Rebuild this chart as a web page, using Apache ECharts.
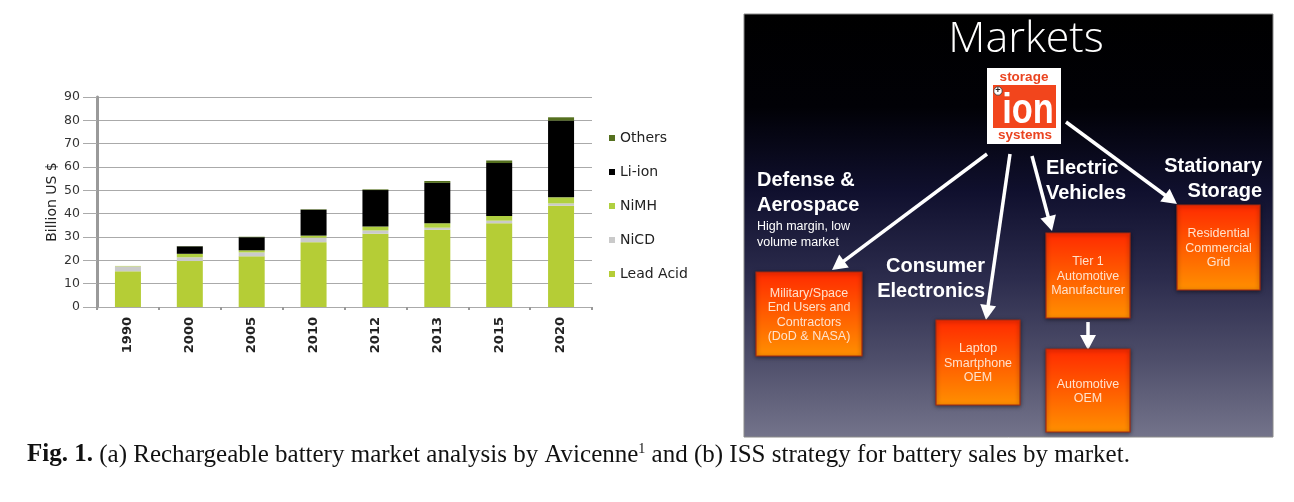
<!DOCTYPE html>
<html>
<head>
<meta charset="utf-8">
<script src="https://cdn.jsdelivr.net/npm/echarts@6/dist/echarts.min.js"></script>
<style>
html,body{margin:0;padding:0;background:#fff;}
#main{width:1294px;height:502px;}
</style>
</head>
<body>
<div id="main"></div>
<script>
// chart values (Billion US $)
var categories = ['1990', '2000', '2005', '2010', '2012', '2013', '2015', '2020'];
var leadAcid = [15.3, 19.7, 21.7, 27.8, 31.4, 33.1, 35.9, 43.4];
var niCd     = [2.1, 1.6, 1.7, 1.9, 1.4, 0.9, 1.1, 1.0];
var niMh     = [0.2, 1.5, 0.9, 0.9, 1.7, 1.9, 2.0, 2.6];
var liIon    = [0, 3.2, 5.6, 11.1, 15.6, 17.3, 22.7, 32.9];
var others   = [0, 0.1, 0.2, 0.2, 0.3, 0.8, 1.1, 1.4];
var legendOrder = ['Others', 'Li-ion', 'NiMH', 'NiCD', 'Lead Acid'];

// diagram texts
var boxes = [
	{x: 756, y: 272, w: 106, h: 84, text: 'Military/Space\nEnd Users and\nContractors\n(DoD & NASA)'},
	{x: 936, y: 320, w: 84, h: 85, text: 'Laptop\nSmartphone\nOEM'},
	{x: 1046, y: 233, w: 84, h: 85, text: 'Tier 1\nAutomotive\nManufacturer'},
	{x: 1046, y: 349, w: 84, h: 83, text: 'Automotive\nOEM'},
	{x: 1177, y: 205, w: 83, h: 85, text: 'Residential\nCommercial\nGrid'}
];
var arrows = [
	[987, 154, 832, 270],
	[1010, 154, 986, 320],
	[1032, 156, 1052, 231],
	[1066, 122, 1177, 204],
	[1088, 322, 1088, 350]
];

function arrow(a){
	var dx = a[2] - a[0], dy = a[3] - a[1];
	var len = Math.sqrt(dx * dx + dy * dy);
	var ux = dx / len, uy = dy / len;
	var hl = 15, hw = 8;
	var bx = a[2] - ux * hl, by = a[3] - uy * hl;
	return {
		type: 'group',
		children: [{
			type: 'line',
			shape: {x1: a[0], y1: a[1], x2: bx + ux * 2, y2: by + uy * 2},
			style: {stroke: '#fff', lineWidth: 3.5}
		}, {
			type: 'polygon',
			shape: {points: [[a[2], a[3]], [bx - uy * hw, by + ux * hw], [bx + uy * hw, by - ux * hw]]},
			style: {fill: '#fff'}
		}]
	};
}

function box(b){
	return {
		type: 'group',
		children: [{
			type: 'rect',
			shape: {x: b.x, y: b.y, width: b.w, height: b.h},
			style: {
				fill: {type: 'linear', x: 0, y: 0, x2: 0, y2: 1,
					colorStops: [{offset: 0, color: '#ff2a00'}, {offset: 1, color: '#ff9000'}]},
				stroke: '#a82a10', lineWidth: 1.2,
				shadowBlur: 4, shadowColor: 'rgba(0,0,0,0.5)', shadowOffsetY: 1
			}
		}, {
			type: 'text',
			style: {
				x: b.x + b.w / 2, y: b.y + b.h / 2 + 1,
				text: b.text, align: 'center', verticalAlign: 'middle',
				font: '12.5px "Liberation Sans", Arial, sans-serif',
				lineHeight: 14.5, fill: '#ffe2cc'
			}
		}]
	};
}

function label(x, y, txt, size, weight, align){
	return {
		type: 'text',
		style: {
			x: x, y: y, text: txt, align: align || 'left', verticalAlign: 'middle',
			font: weight + ' ' + size + 'px "Liberation Sans", Arial, sans-serif',
			lineHeight: size * 1.28, fill: '#fff'
		}
	};
}

var graphics = [];
// panel background
graphics.push({
	type: 'rect',
	shape: {x: 744, y: 14, width: 529, height: 423},
	style: {
		fill: {type: 'linear', x: 0, y: 0, x2: 0, y2: 1, colorStops: [
			{offset: 0, color: '#000000'},
			{offset: 0.22, color: '#010106'},
			{offset: 0.42, color: '#10102e'},
			{offset: 0.62, color: '#2b2b4c'},
			{offset: 0.82, color: '#4f4f6b'},
			{offset: 1, color: '#74748b'}]},
		stroke: '#8a8a8a', lineWidth: 1
	}
});
graphics.push({
	type: 'text',
	style: {x: 1026, y: 40, text: 'Markets', align: 'center', verticalAlign: 'middle',
		font: '300 43px "Open Sans", "Liberation Sans", sans-serif', fill: '#fff'}
});
// logo
graphics.push({type: 'rect', shape: {x: 987, y: 68, width: 74, height: 76}, style: {fill: '#fff'}});
graphics.push({type: 'rect', shape: {x: 993, y: 85, width: 63, height: 43}, style: {fill: '#f2451c'}});
graphics.push({type: 'text', style: {x: 1024, y: 77.5, text: 'storage', align: 'center', verticalAlign: 'middle',
	font: 'bold 13.5px "Liberation Sans", Arial, sans-serif', fill: '#ea4420'}});
graphics.push({type: 'text', style: {x: 1025, y: 135, text: 'systems', align: 'center', verticalAlign: 'middle',
	font: 'bold 13.5px "Liberation Sans", Arial, sans-serif', fill: '#ea4420'}});
graphics.push({type: 'text', x: 1028, y: 111, scaleX: 0.8,
	style: {x: 0, y: 0, text: 'ion', align: 'center', verticalAlign: 'middle',
	font: 'bold 43px "Liberation Sans", Arial, sans-serif', fill: '#fff'}});
graphics.push({type: 'circle', shape: {cx: 998, cy: 91, r: 4.2}, style: {fill: '#fff', stroke: '#333', lineWidth: 0.8}});
graphics.push({type: 'text', style: {x: 998, y: 91, text: '+', align: 'center', verticalAlign: 'middle',
	font: 'bold 9px "Liberation Sans", Arial, sans-serif', fill: '#222'}});

for (var i = 0; i < arrows.length; i++) {
	graphics.push(arrow(arrows[i]));
}
for (var j = 0; j < boxes.length; j++) {
	graphics.push(box(boxes[j]));
}
graphics.push(label(757, 193, 'Defense &\nAerospace', 20, 'bold'));
graphics.push(label(757, 234.5, 'High margin, low\nvolume market', 12.5, 'normal'));
graphics.push(label(985, 279, 'Consumer\nElectronics', 20, 'bold', 'right'));
graphics.push(label(1046, 181, 'Electric\nVehicles', 20, 'bold'));
graphics.push(label(1262, 179, 'Stationary\nStorage', 20, 'bold', 'right'));

// caption
graphics.push({
	type: 'text',
	style: {
		x: 27, y: 455, verticalAlign: 'middle',
		text: '{b|Fig. 1.} (a) Rechargeable battery market analysis by Avicenne{s|1} and (b) ISS strategy for battery sales by market.',
		font: '25px "Liberation Serif", "Times New Roman", serif',
		fill: '#111',
		rich: {
			b: {font: 'bold 25px "Liberation Serif", "Times New Roman", serif', fill: '#111'},
			s: {font: '14px "Liberation Serif", "Times New Roman", serif', fill: '#111', padding: [0, 0, 11, 0]}
		}
	}
});

var myChart = echarts.init(document.getElementById('main'));
var barStyle = function(name, data, color){
	return {
		name: name, type: 'bar', stack: 'total', data: data,
		barWidth: 26, itemStyle: {color: color}, emphasis: {disabled: true}
	};
};
var option = {
	animation: false,
	textStyle: {fontFamily: '"DejaVu Sans", Verdana, sans-serif'},
	grid: {left: 97, right: 702, top: 97, bottom: 195},
	legend: {
		orient: 'vertical', left: 604, top: 126,
		data: legendOrder,
		icon: 'rect', itemWidth: 6, itemHeight: 6, itemGap: 20,
		textStyle: {fontSize: 14, color: '#222', fontFamily: '"DejaVu Sans", Verdana, sans-serif'}
	},
	xAxis: {
		type: 'category', data: categories,
		axisLine: {lineStyle: {color: '#aaa', width: 1}},
		axisTick: {show: true, length: 3, lineStyle: {color: '#999', width: 2}},
		axisLabel: {rotate: 90, margin: 10, fontSize: 13, fontWeight: 'bold', color: '#222'}
	},
	yAxis: {
		type: 'value', min: 0, max: 90, interval: 10,
		name: 'Billion US $', nameLocation: 'middle', nameGap: 38, nameRotate: 90,
		nameTextStyle: {fontSize: 14, color: '#222'},
		axisLine: {show: true, lineStyle: {color: '#9a9a9a', width: 3}},
		axisTick: {show: true, length: 14, lineStyle: {color: '#aaa'}},
		axisLabel: {margin: 17, fontSize: 12.5, color: '#333'},
		splitLine: {lineStyle: {color: '#aaa', width: 1}}
	},
	series: [
		barStyle('Lead Acid', leadAcid, '#b5cd36'),
		barStyle('NiCD', niCd, '#cacaca'),
		barStyle('NiMH', niMh, '#b0d040'),
		barStyle('Li-ion', liIon, '#000000'),
		barStyle('Others', others, '#55701f')
	],
	graphic: graphics
};
myChart.setOption(option);
</script>
</body>
</html>
